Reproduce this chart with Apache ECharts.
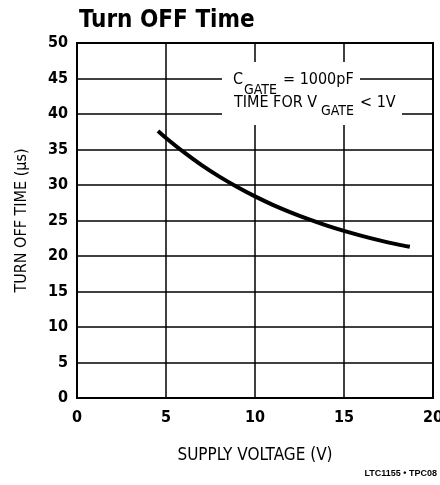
<!DOCTYPE html>
<html style="height: 100%">
   <head>
       <meta charset="utf-8">
   </head>
   <body style="height: 100%; margin: 0; background: #fff">
       <div id="container" style="width: 440px; height: 485px"></div>
       <script type="text/javascript" src="https://cdn.jsdelivr.net/npm/echarts@6/dist/echarts.min.js"></script>
       <script type="text/javascript">
var supplyVoltage = [4.55, 5, 6, 7, 8, 9, 10, 11, 12, 13, 14, 15, 16, 17, 18, 18.7];
var turnOffTime = [37.6, 36.62, 34.62, 32.8, 31.18, 29.72, 28.4, 27.21, 26.15, 25.19, 24.32, 23.54, 22.84, 22.2, 21.64, 21.3];
var xTicks = [0, 5, 10, 15, 20];
var yTicks = [0, 5, 10, 15, 20, 25, 30, 35, 40, 45, 50];

var FONT = '"Liberation Sans Narrow", "DejaVu Sans Condensed", "Liberation Sans", sans-serif';

var dom = document.getElementById("container");
var myChart = echarts.init(dom);

var points = supplyVoltage.map(function (v, i) {
    return [v, turnOffTime[i]];
});

var option = {
    animation: false,
    backgroundColor: '#fff',
    title: {
        text: 'Turn OFF Time',
        left: 74,
        top: 4,
        textStyle: {
            fontFamily: FONT,
            fontWeight: 'bold',
            fontSize: 24,
            color: '#000'
        }
    },
    grid: {
        left: 77,
        right: 7,
        top: 43,
        bottom: 87,
        outerBoundsMode: 'none',
        show: true,
        borderColor: '#000',
        borderWidth: 2
    },
    xAxis: {
        type: 'value',
        min: xTicks[0],
        max: xTicks[xTicks.length - 1],
        interval: 5,
        name: 'SUPPLY VOLTAGE (V)',
        nameLocation: 'middle',
        nameGap: 49,
        nameTextStyle: {fontFamily: FONT, fontSize: 17, color: '#000'},
        axisLine: {lineStyle: {color: '#000', width: 2}},
        axisTick: {show: false},
        axisLabel: {fontFamily: FONT, fontWeight: 'bold', fontSize: 16, color: '#000', margin: 12},
        splitLine: {lineStyle: {color: '#000', width: 1.5}}
    },
    yAxis: {
        type: 'value',
        min: yTicks[0],
        max: yTicks[yTicks.length - 1],
        interval: 5,
        name: 'TURN OFF TIME (\u00b5s)',
        nameLocation: 'middle',
        nameGap: 47,
        nameTextStyle: {fontFamily: FONT, fontSize: 16, color: '#000'},
        axisLine: {lineStyle: {color: '#000', width: 2}},
        axisTick: {show: false},
        axisLabel: {fontFamily: FONT, fontWeight: 'bold', fontSize: 16, color: '#000', margin: 9},
        splitLine: {lineStyle: {color: '#000', width: 1.5}}
    },
    graphic: [
        {type: 'rect', left: 222, top: 62, shape: {width: 138, height: 34}, style: {fill: '#fff'}, z: 10},
        {type: 'rect', left: 222, top: 95, shape: {width: 180, height: 30}, style: {fill: '#fff'}, z: 10},
        {type: 'text', left: 233, top: 72, z: 11,
            style: {text: 'C', font: '16px ' + FONT, fill: '#000'}},
        {type: 'text', left: 244, top: 83, z: 11,
            style: {text: 'GATE', font: '14px ' + FONT, fill: '#000'}},
        {type: 'text', left: 283, top: 72, z: 11,
            style: {text: '= 1000pF', font: '16px ' + FONT, fill: '#000'}},
        {type: 'text', left: 234, top: 95, z: 11,
            style: {text: 'TIME FOR V', font: '16px ' + FONT, fill: '#000'}},
        {type: 'text', left: 321, top: 104, z: 11,
            style: {text: 'GATE', font: '14px ' + FONT, fill: '#000'}},
        {type: 'text', left: 360, top: 95, z: 11,
            style: {text: '< 1V', font: '16px ' + FONT, fill: '#000'}},
        {type: 'text', right: 3, top: 469, z: 11,
            style: {text: 'LTC1155 \u2022 TPC08', font: 'bold 9px "Liberation Sans", Arial, sans-serif', fill: '#000'}}
    ],
    series: [
        {
            type: 'line',
            data: points,
            smooth: 0.3,
            showSymbol: false,
            lineStyle: {color: '#000', width: 4},
            z: 5
        }
    ]
};

myChart.setOption(option);
       </script>
   </body>
</html>
